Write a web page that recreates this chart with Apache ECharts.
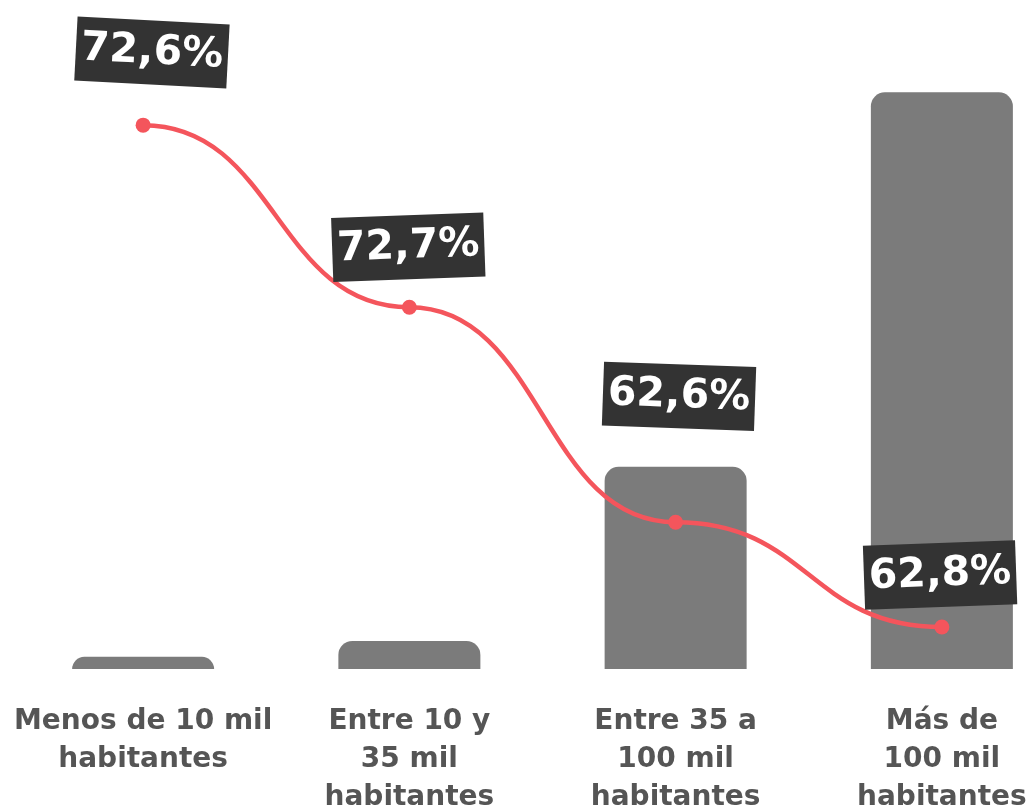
<!DOCTYPE html>
<html>
<head>
<meta charset="utf-8">
<script src="https://cdn.jsdelivr.net/npm/echarts@6/dist/echarts.min.js"></script>
<style>
  html, body { margin: 0; padding: 0; background: #ffffff; }
  #chart { width: 1036px; height: 808px; }
</style>
</head>
<body>
<div id="chart"></div>
<script>
// Municipality size groups
const categories = [
  'Menos de 10 mil\nhabitantes',
  'Entre 10 y\n35 mil\nhabitantes',
  'Entre 35 a\n100 mil\nhabitantes',
  'Más de\n100 mil\nhabitantes'
];
// Gray columns (relative weight of each group)
const barValues = [2.0, 4.6, 33.2, 94.7];
// Red curve (share of municipalities per group)
const lineValues = [89.3, 59.4, 24.1, 6.9];
// Percentages printed in the dark tags
const tagLabels = ['72,6%', '72,7%', '62,6%', '62,8%'];
// Tag placement relative to each point
const tagOffsets = [[5, -73], [1, -60], [-1, -126], [0, -52]];
const tagRotate = [-3, 2, -2, 2];

const FONT = '"DejaVu Sans", sans-serif';
const RED = '#f4555c';

const chart = echarts.init(document.getElementById('chart'));
chart.setOption({
  animation: false,
  backgroundColor: '#ffffff',
  grid: { left: 10, top: 60, right: -39, bottom: 139, outerBoundsMode: 'none' },
  xAxis: {
    type: 'category',
    data: categories,
    axisLine: { show: false },
    axisTick: { show: false },
    axisLabel: {
      interval: 0,
      margin: 34,
      color: '#555555',
      fontFamily: FONT,
      fontWeight: 'bold',
      fontSize: 28,
      lineHeight: 38
    }
  },
  yAxis: {
    type: 'value',
    min: 0,
    max: 100,
    show: false,
    splitLine: { show: false }
  },
  series: [
    {
      type: 'bar',
      data: barValues,
      barWidth: 142,
      itemStyle: { color: '#7b7b7b', borderRadius: [14, 14, 0, 0] },
      z: 1
    },
    {
      // S-shaped connector between consecutive points (flat at each point)
      type: 'custom',
      data: lineValues.map((v, i) => [i, v]),
      z: 2,
      silent: true,
      renderItem: (params, api) => {
        const i = api.value(0);
        if (i >= lineValues.length - 1) return null;
        const a = api.coord([i, lineValues[i]]);
        const b = api.coord([i + 1, lineValues[i + 1]]);
        const mx = (a[0] + b[0]) / 2;
        return {
          type: 'bezierCurve',
          shape: { x1: a[0], y1: a[1], x2: b[0], y2: b[1], cpx1: mx, cpy1: a[1], cpx2: mx, cpy2: b[1] },
          style: { stroke: RED, lineWidth: 4.5, fill: null }
        };
      }
    },
    {
      type: 'scatter',
      data: lineValues.map((v, i) => ({
        value: [i, v],
        label: { offset: tagOffsets[i], rotate: tagRotate[i] }
      })),
      symbol: 'circle',
      symbolSize: 15,
      itemStyle: { color: RED, opacity: 1 },
      emphasis: { disabled: true },
      z: 3,
      label: {
        show: true,
        position: 'inside',
        formatter: (p) => tagLabels[p.dataIndex],
        color: '#ffffff',
        fontFamily: FONT,
        fontWeight: 'bold',
        fontSize: 41,
        lineHeight: 48,
        backgroundColor: '#333333',
        padding: [8, 5, 8, 5]
      }
    }
  ]
});
</script>
</body>
</html>
